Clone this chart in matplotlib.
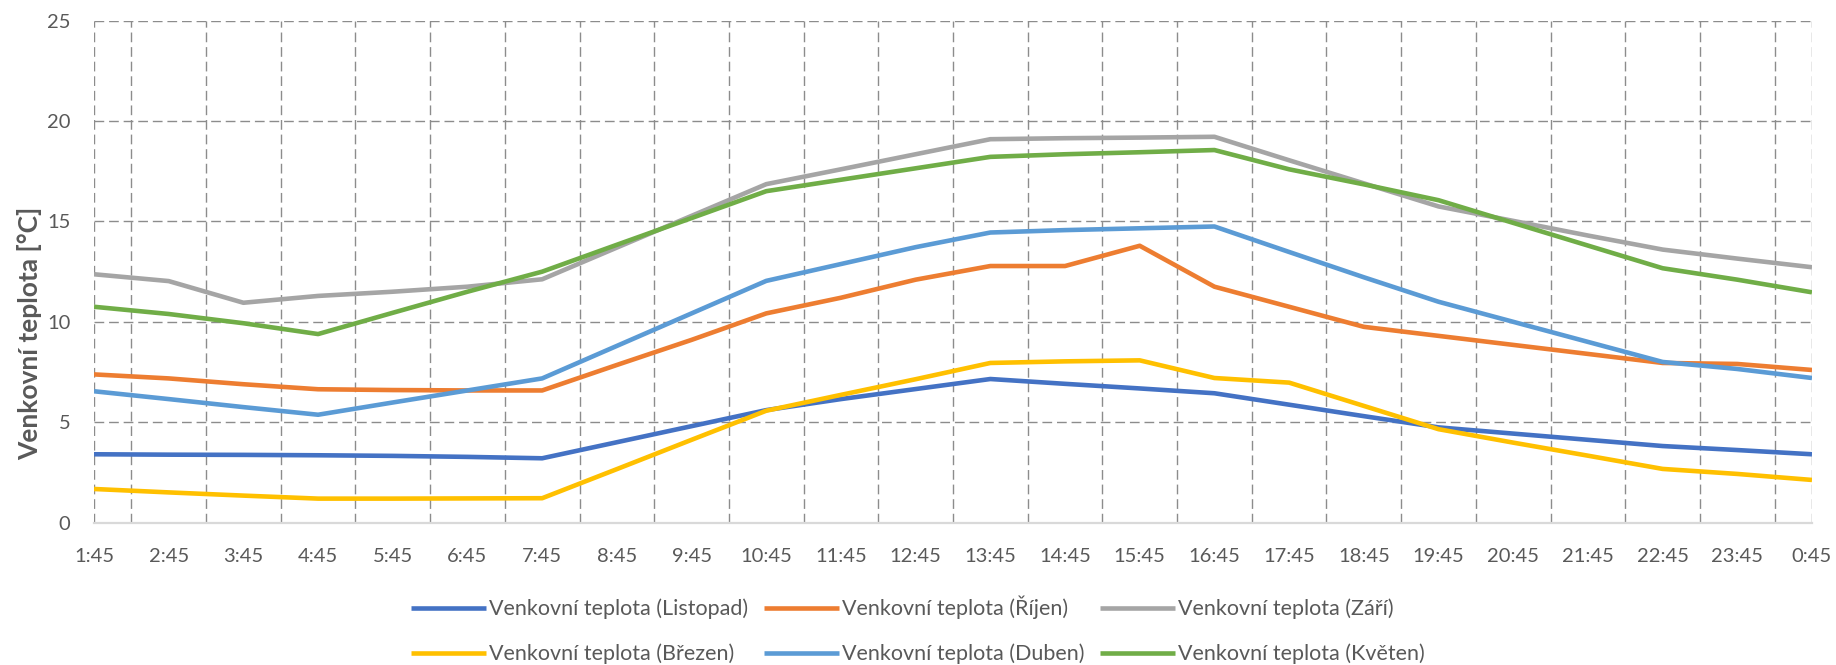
import matplotlib
matplotlib.use("Agg")
import matplotlib.pyplot as plt
import numpy as np

plt.rcParams['font.family'] = ['Lato', 'DejaVu Sans']

times = ["1:45", "2:45", "3:45", "4:45", "5:45", "6:45", "7:45", "8:45", "9:45",
         "10:45", "11:45", "12:45", "13:45", "14:45", "15:45", "16:45", "17:45",
         "18:45", "19:45", "20:45", "21:45", "22:45", "23:45", "0:45"]

listopad = [3.40, 3.38, 3.37, 3.35, 3.32, 3.27, 3.20, 4.00, 4.80, 5.60, 6.15, 6.65,
            7.15, 6.91, 6.68, 6.44, 5.87, 5.30, 4.74, 4.43, 4.12, 3.81, 3.61, 3.40]
rijen = [7.38, 7.18, 6.89, 6.64, 6.60, 6.58, 6.58, 7.85, 9.10, 10.42, 11.20, 12.10,
         12.78, 12.78, 13.79, 11.75, 10.75, 9.75, 9.30, 8.85, 8.40, 7.95, 7.90, 7.60]
zari = [12.37, 12.03, 10.95, 11.29, 11.50, 11.75, 12.12, 13.70, 15.28, 16.86, 17.60, 18.35,
        19.10, 19.15, 19.18, 19.22, 18.05, 16.90, 15.75, 15.03, 14.30, 13.60, 13.15, 12.72]
brezen = [1.67, 1.50, 1.34, 1.19, 1.19, 1.20, 1.21, 2.66, 4.12, 5.57, 6.36, 7.14,
          7.95, 8.03, 8.08, 7.20, 6.97, 5.81, 4.65, 3.98, 3.33, 2.67, 2.42, 2.12]
duben = [6.54, 6.15, 5.75, 5.37, 5.98, 6.58, 7.18, 8.80, 10.42, 12.04, 12.88, 13.72,
         14.45, 14.57, 14.66, 14.75, 13.48, 12.22, 11.00, 10.00, 9.00, 8.00, 7.65, 7.20]
kveten = [10.75, 10.39, 9.93, 9.39, 10.45, 11.50, 12.50, 13.84, 15.17, 16.51, 17.08, 17.65,
          18.22, 18.35, 18.45, 18.56, 17.60, 16.85, 16.06, 14.93, 13.80, 12.67, 12.10, 11.47]

series = [
    ("Venkovní teplota (Listopad)", listopad, "#4472C4"),
    ("Venkovní teplota (Říjen)", rijen, "#ED7D31"),
    ("Venkovní teplota (Září)", zari, "#A5A5A5"),
    ("Venkovní teplota (Březen)", brezen, "#FFC000"),
    ("Venkovní teplota (Duben)", duben, "#5B9BD5"),
    ("Venkovní teplota (Květen)", kveten, "#70AD47"),
]

text_color = "#595959"
grid_color = "#8c8c8c"
grid_kw = dict(color=grid_color, linewidth=1.0, dashes=(7, 3.5), zorder=1)

fig = plt.figure(figsize=(18.36, 6.65), dpi=100)
ax = fig.add_axes([94 / 1836, 1 - 522.5 / 665, (1812 - 94) / 1836, (522.5 - 20.8) / 665])

x = np.arange(len(times))
handles = {}
for name, vals, color in series:
    (ln,) = ax.plot(x, vals, color=color, linewidth=3.3, solid_joinstyle="round",
                    solid_capstyle="butt", label=name, zorder=3)
    handles[name] = ln

ax.set_xlim(0, len(times) - 1)
ax.set_ylim(0, 25)
ax.set_xticks(x)
ax.set_xticklabels(times)
ax.set_yticks(np.arange(0, 26, 5))

# dashed grid: horizontal at the y ticks, vertical between categories and on both edges
for yv in np.arange(5, 26, 5):
    ax.axhline(yv, **grid_kw)
for xv in list(np.arange(0.5, len(times) - 1, 1.0)) + [0, len(times) - 1]:
    ax.axvline(xv, **grid_kw)

for s in ("top", "left", "right"):
    ax.spines[s].set_visible(False)
ax.spines["bottom"].set_color("#d9d9d9")
ax.spines["bottom"].set_linewidth(1.6)
ax.spines["bottom"].set_zorder(2)

ax.tick_params(axis="x", length=0, pad=18, labelsize=14.5, labelcolor=text_color)
ax.tick_params(axis="y", length=0, pad=17, labelsize=14.5, labelcolor=text_color)

ax.set_ylabel("Venkovní teplota [°C]", fontsize=19, fontweight="bold", color=text_color)
ax.yaxis.label.set_va("center")
ax.yaxis.set_label_coords(-0.0375, 0.376)

order = ["Venkovní teplota (Listopad)", "Venkovní teplota (Březen)",
         "Venkovní teplota (Říjen)", "Venkovní teplota (Duben)",
         "Venkovní teplota (Září)", "Venkovní teplota (Květen)"]
leg = fig.legend([handles[n] for n in order], order, ncol=3, loc="center",
                 bbox_to_anchor=(0.5, 0.0526), frameon=False, fontsize=15.5,
                 handlelength=3.5, handletextpad=0.15, columnspacing=0.7,
                 labelspacing=1.15, borderpad=0.0)
for t in leg.get_texts():
    t.set_color(text_color)

fig.savefig("out.png", dpi=100)
